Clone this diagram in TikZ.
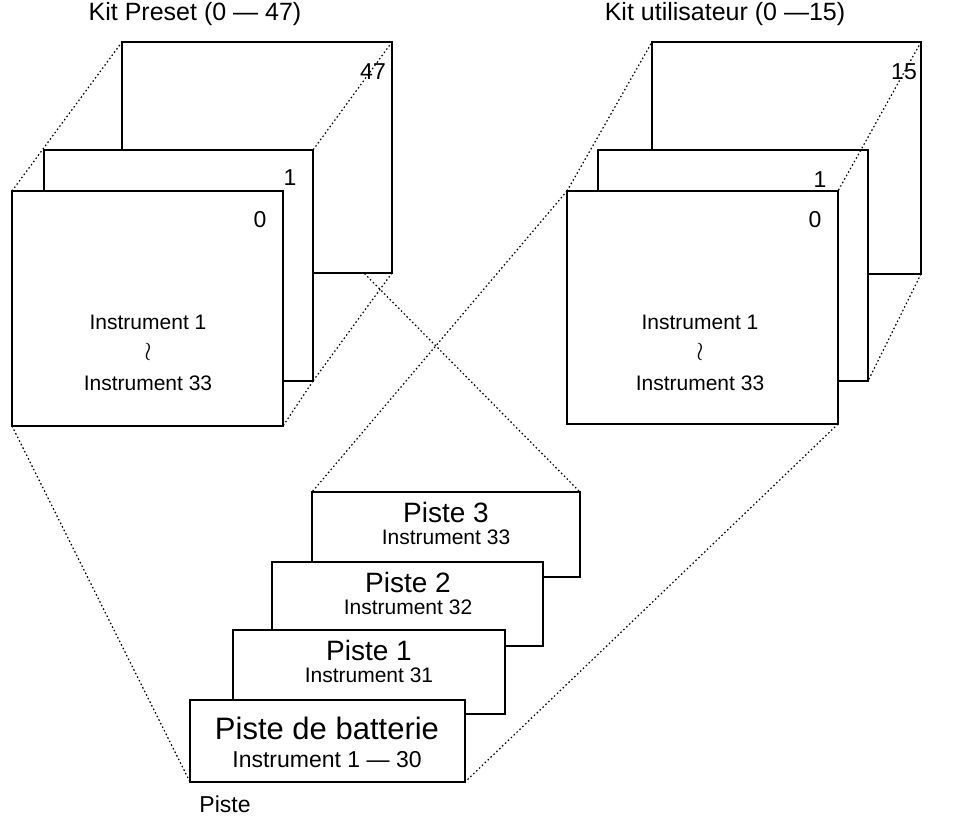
\documentclass[tikz,border=0pt]{standalone}
\usepackage{fontspec}
\setmainfont{Liberation Sans}
\usetikzlibrary{positioning}

\begin{document}
\begin{tikzpicture}[x=1pt, y=-1pt, box/.style={draw, fill=white, line width=1.4pt},
    link/.style={dash pattern=on 1.5pt off 2.5pt, line width=1.2pt}, lbl/.style={font=\fontsize{23}{26}\selectfont},
    tild/.style={inner sep=0pt, scale=2.6}]
    \useasboundingbox (0,0) rectangle (956,823);
    % Titles
    \node[font=\fontsize{25}{28}\selectfont] (tpre) at (195,14) {Kit Preset (0 --- 47)};
    \node[font=\fontsize{25}{28}\selectfont] (tusr) at (725,14) {Kit utilisateur (0 ---15)};

    % Links behind
    \coordinate (lft) at (12,191);
    \coordinate (lfr) at (283,191);
    \coordinate (lbl2) at (12,426);
    \coordinate (rft) at (567,191);
    \coordinate (rbr) at (838,424);
    \draw[link] (lfr) -- (580,492);
    \draw[link] (rft) -- (312,492);
    \draw[link] (lbl2) -- (190,782);
    \draw[link] (rbr) -- (465,782);

    % Left kit
    \draw[box] (122,42) rectangle (392,273);
    \draw[box] (44,150) rectangle (313,381);
    \draw[box] (lft) rectangle (283,426);
    \draw[link] (lft) -- (122,42);
    \draw[link] (392,42) -- (313,150);
    \draw[link] (392,273) -- (313,381);
    \draw[link] (313,381) -- (283,426);
    \node[lbl] (p47) at (373,72) {47};
    \node[lbl] (p1) at (290,178) {1};
    \node[lbl] (p0) at (260,220) {0};
    \node[font=\fontsize{21}{24}\selectfont] (pi1) at (148,322) {Instrument 1};
    \node[tild] (pt) at (148,352) {$\wr$};
    \node[font=\fontsize{21}{24}\selectfont] (pi33) at (148,383) {Instrument 33};

    % Right kit
    \draw[box] (652,42) rectangle (921,274);
    \draw[box] (598,150) rectangle (868,381);
    \draw[box] (rft) rectangle (rbr);
    \draw[link] (rft) -- (652,42);
    \draw[link] (921,42) -- (838,191);
    \draw[link] (921,274) -- (868,381);
    \node[lbl] (u15) at (904,72) {15};
    \node[lbl] (u1) at (820,180) {1};
    \node[lbl] (u0) at (815,220) {0};
    \node[font=\fontsize{21}{24}\selectfont] (ui1) at (700,322) {Instrument 1};
    \node[tild] (ut) at (700,352) {$\wr$};
    \node[font=\fontsize{21}{24}\selectfont] (ui33) at (700,383) {Instrument 33};

    % Tracks
    \draw[box] (312,492) rectangle (580,577);
    \node[font=\fontsize{28}{30}\selectfont] (s3) at (446,512) {Piste 3};
    \node[font=\fontsize{21}{23}\selectfont] (s3i) at (446,537) {Instrument 33};
    \draw[box] (272,562) rectangle (543,646);
    \node[font=\fontsize{28}{30}\selectfont] (s2) at (408,582) {Piste 2};
    \node[font=\fontsize{21}{23}\selectfont] (s2i) at (408,607) {Instrument 32};
    \draw[box] (233,630) rectangle (505,714);
    \node[font=\fontsize{28}{30}\selectfont] (s1) at (369,650) {Piste 1};
    \node[font=\fontsize{21}{23}\selectfont] (s1i) at (369,675) {Instrument 31};
    \draw[box] (190,700) rectangle (465,782);
    \node[font=\fontsize{31}{33}\selectfont] (sb) at (327,728) {Piste de batterie};
    \node[font=\fontsize{23}{25}\selectfont] (sbi) at (327,760) {Instrument 1 --- 30};
    \node[font=\fontsize{23}{25}\selectfont] (piste) at (225,804) {Piste};
\end{tikzpicture}
\end{document}
